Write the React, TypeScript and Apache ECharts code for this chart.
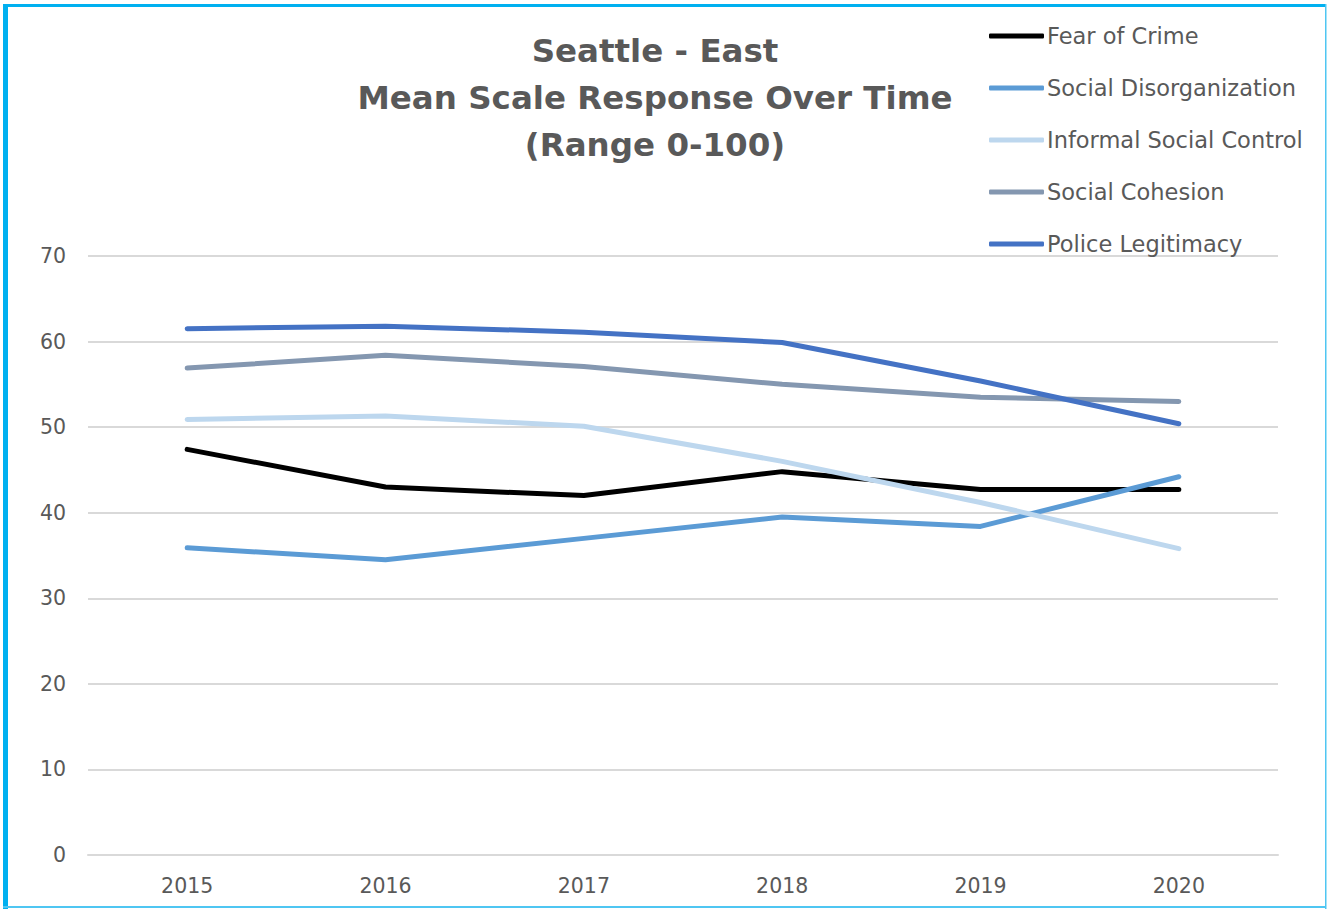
import React, { useEffect, useRef } from "react";
import * as echarts from "echarts";

const years = ["2015", "2016", "2017", "2018", "2019", "2020"];
const fearOfCrime = [47.4, 43.0, 42.0, 44.8, 42.7, 42.7];
const socialDisorganization = [35.9, 34.5, 37.0, 39.5, 38.4, 44.2];
const informalSocialControl = [50.9, 51.3, 50.1, 46.0, 41.2, 35.8];
const socialCohesion = [56.9, 58.4, 57.1, 55.0, 53.5, 53.0];
const policeLegitimacy = [61.5, 61.8, 61.1, 59.9, 55.4, 50.4];

const seriesNames = [
  "Fear of Crime",
  "Social Disorganization",
  "Informal Social Control",
  "Social Cohesion",
  "Police Legitimacy",
];
const seriesData = [fearOfCrime, socialDisorganization, informalSocialControl, socialCohesion, policeLegitimacy];
const colors = ["#000000", "#5B9BD5", "#BDD7EE", "#8497B0", "#4472C4"];

const FONT = "DejaVu Sans";

export default function App() {
  const ref = useRef<HTMLDivElement>(null);
  useEffect(() => {
    if (!ref.current) return;
    const chart = echarts.init(ref.current, undefined, { renderer: "svg" });
    chart.setOption({
      animation: false,
      backgroundColor: "#ffffff",
      title: {
        text: "Seattle - East\nMean Scale Response Over Time\n(Range 0-100)",
        left: 650,
        top: 22,
        textAlign: "center",
        textStyle: {
          fontFamily: FONT,
          fontWeight: "bold",
          fontSize: 32.5,
          lineHeight: 47,
          color: "#595959",
        },
      },
      legend: {
        orient: "vertical",
        left: 984,
        top: 16,
        itemWidth: 55,
        itemHeight: 5,
        itemGap: 22,
        icon: "roundRect",
        textStyle: {
          fontFamily: FONT,
          fontSize: 22.5,
          lineHeight: 30,
          color: "#595959",
          padding: [0, 0, 0, -2],
        },
        data: seriesNames,
      },
      grid: { left: 88, right: 50, top: 256, bottom: 54, containLabel: false },
      xAxis: {
        type: "category",
        data: years,
        boundaryGap: true,
        axisLine: { show: true, lineStyle: { color: "#d9d9d9", width: 2 } },
        axisTick: { show: false },
        axisLabel: { fontFamily: FONT, fontSize: 20.5, color: "#595959", margin: 20 },
      },
      yAxis: {
        type: "value",
        min: 0,
        max: 70,
        interval: 10,
        axisLine: { show: false },
        axisTick: { show: false },
        splitLine: { lineStyle: { color: "#d9d9d9", width: 2 } },
        axisLabel: { fontFamily: FONT, fontSize: 20.5, color: "#595959", margin: 22 },
      },
      series: seriesNames.map((name, i) => ({
        name,
        type: "line",
        data: seriesData[i],
        showSymbol: false,
        symbol: "none",
        lineStyle: { color: colors[i], width: 5, cap: "round", join: "round" },
        itemStyle: { color: colors[i] },
      })),
      graphic: [
        { type: "rect", shape: { x: 3, y: 4, width: 1323, height: 3 }, style: { fill: "#00B0F0" } },
        { type: "rect", shape: { x: 3, y: 4, width: 5, height: 905 }, style: { fill: "#00B0F0" } },
        { type: "rect", shape: { x: 1325, y: 4, width: 1.5, height: 905 }, style: { fill: "#4FC6F2" } },
        { type: "rect", shape: { x: 3, y: 906, width: 1323, height: 2 }, style: { fill: "#4FC6F2" } },
      ],
    });
    return () => chart.dispose();
  }, []);
  return (
    <div
      ref={ref}
      style={{ position: "fixed", left: 0, top: 0, width: 1328, height: 909 }}
    />
  );
}
